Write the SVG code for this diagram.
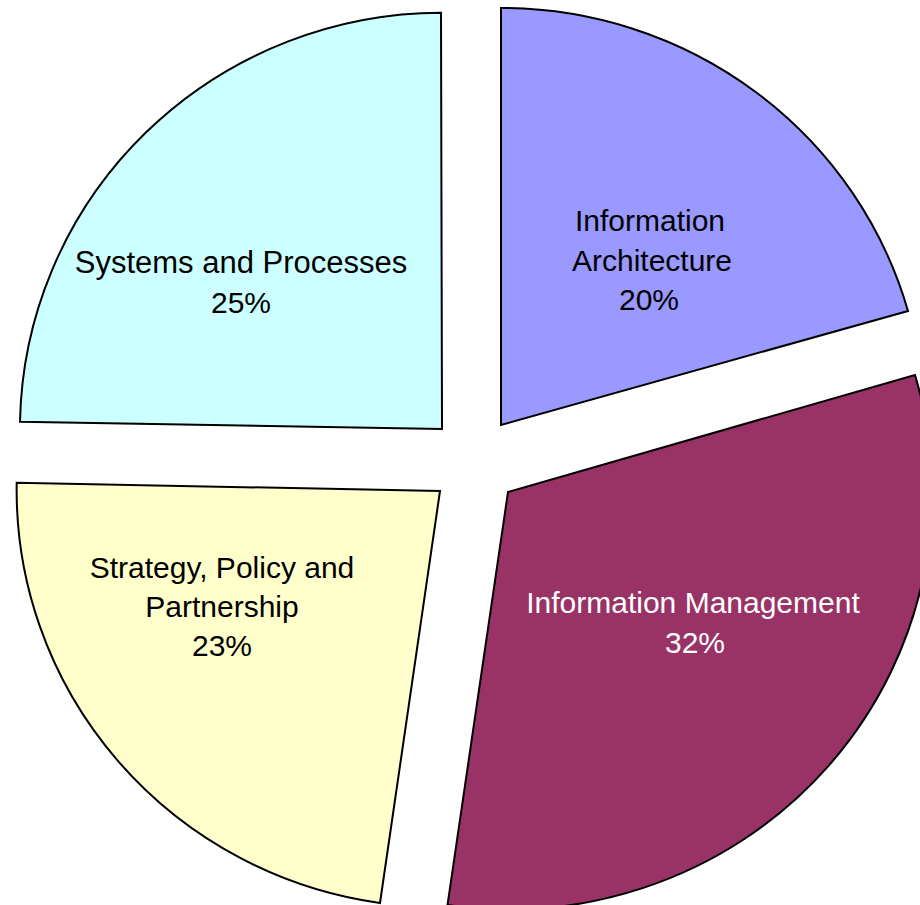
<svg xmlns="http://www.w3.org/2000/svg" width="920" height="905" viewBox="0 0 920 905">
<style>
.slice{stroke:#000;stroke-width:2;stroke-linejoin:miter}
.lbl{font-family:"Liberation Sans",Arial,sans-serif;font-size:30px;text-anchor:middle;fill:#000}
.w{fill:#fff}
</style>
<rect width="920" height="905" fill="#fff"/>
<g id="slice-systems">
<path class="slice" fill="#CCFFFF" d="M442,429 L20,421.7 A422,417 0 0 1 441,12.7 Z"/>
<text class="lbl" x="241" y="273" style="font-size:31px">Systems and Processes</text>
<text class="lbl" x="241" y="313">25%</text>
</g>
<g id="slice-architecture">
<path class="slice" fill="#9999FF" d="M501,425 L501,8 A423,417 0 0 1 908,311 Z"/>
<text class="lbl" x="650" y="231">Information</text>
<text class="lbl" x="652" y="271">Architecture</text>
<text class="lbl" x="649" y="310">20%</text>
</g>
<g id="slice-management">
<path class="slice" fill="#993366" d="M508,492 L915,375 A423,417 0 0 1 447.5,905 Z"/>
<text class="lbl w" x="693" y="613">Information Management</text>
<text class="lbl w" x="695" y="653">32%</text>
</g>
<g id="slice-strategy">
<path class="slice" fill="#FFFFCC" d="M440,491 L380,903 A423,417 0 0 1 16.7,482.7 Z"/>
<text class="lbl" x="222" y="578">Strategy, Policy and</text>
<text class="lbl" x="222" y="617">Partnership</text>
<text class="lbl" x="222" y="656">23%</text>
</g>
<g id="connectors"/>
</svg>
